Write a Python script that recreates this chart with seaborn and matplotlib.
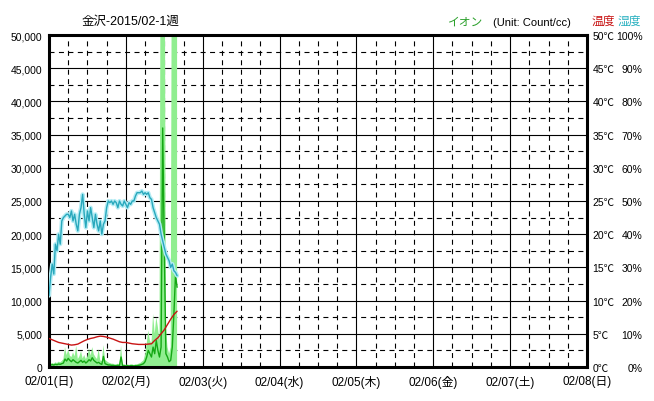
import numpy as np
import pandas as pd
import seaborn as sns
import matplotlib.pyplot as plt
from matplotlib.ticker import MultipleLocator

# time axis (hours since 02/01 00:00), half-hour samples
hours = np.arange(0, 40.5, 0.5)
temp_hours = np.arange(0, 41, 1)

# humidity (%)
humidity = [21.5, 27, 31, 28, 37, 35, 40, 37, 44, 45,
            45.5, 46, 46, 45, 47, 44, 46, 43, 41, 46,
            48, 52, 46, 42, 47, 44, 48, 45, 42, 46,
            43, 41, 44, 40, 43, 44, 48, 50, 49.5, 50,
            49, 50, 49.5, 48, 50, 49, 48.5, 50, 49, 48,
            49.5, 49, 50, 50, 51.5, 52.5, 52.5, 52.5, 53, 52,
            52.5, 52, 52.5, 51, 50.5, 48, 46.5, 45, 44, 43,
            40, 38, 36, 34, 33, 32, 30, 31, 29, 28.5, 27.5]

# temperature (C), hourly
temperature = [4.3, 4.1, 3.9, 3.7, 3.6, 3.5, 3.4, 3.3, 3.35, 3.45,
               3.7, 3.95, 4.15, 4.3, 4.4, 4.55, 4.65, 4.6, 4.5, 4.35,
               4.2, 4.0, 3.8, 3.7, 3.7, 3.6, 3.5, 3.45, 3.4, 3.4,
               3.4, 3.45, 3.5, 4.0, 4.4, 5.0, 5.6, 6.4, 7.2, 7.9, 8.4]

# ion count (count/cc): average and max
ion_avg = [400, 300, 350, 300, 400, 350, 450, 400, 500, 600,
           1200, 900, 1300, 1000, 800, 1100, 900, 700, 600, 800,
           1000, 700, 900, 600, 800, 1100, 900, 1400, 1000, 800,
           600, 700, 500, 400, 1600, 500, 400, 300, 300, 250,
           250, 200, 200, 250, 200, 1500, 150, 200, 150, 200,
           150, 200, 200, 150, 200, 200, 250, 300, 400, 500,
           800, 1500, 2500, 2000, 1500, 3000, 2000, 4000, 2500, 1500,
           3000, 36000, 18000, 2000, 1500, 800, 1000, 3000, 8000, 13800, 12000]
ion_max = [700, 500, 600, 500, 700, 600, 800, 700, 900, 1200,
           3000, 1800, 2600, 1700, 1500, 2200, 1600, 3200, 1200, 1600,
           2400, 1300, 1800, 1200, 1600, 2800, 1700, 3000, 1900, 1500,
           1200, 2700, 1000, 900, 3300, 1100, 900, 700, 600, 500,
           500, 400, 400, 500, 400, 3200, 400, 400, 300, 400,
           300, 400, 400, 300, 400, 400, 500, 600, 800, 1000,
           1800, 3500, 5500, 4000, 3500, 8000, 5000, 7500, 6000, 4000,
           90000, 90000, 90000, 6000, 3000, 2000, 3000, 90000, 90000, 90000, 90000]

day_labels = ["02/01(日)", "02/02(月)", "02/03(火)", "02/04(水)",
              "02/05(木)", "02/06(金)", "02/07(土)", "02/08(日)"]

sns.set_style("white")
plt.rcParams['font.family'] = ['Liberation Sans', 'Noto Sans CJK JP', 'DejaVu Sans']
plt.rcParams['font.size'] = 7.5
plt.rcParams['text.color'] = 'black'
plt.rcParams['xtick.color'] = 'black'
plt.rcParams['ytick.color'] = 'black'

fig = plt.figure(figsize=(6.54, 4.02), dpi=100)
ax = fig.add_axes([49 / 654, 34 / 402, 538 / 654, 332 / 402])
ax_h = ax.twinx()
ax_t = ax.twinx()

# ion: range fill + average line
ax.fill_between(hours, 0, ion_max, color='#90EE90', lw=0)
sns.lineplot(x=hours, y=ion_avg, ax=ax, color='#14A814', lw=1)

# grid
ax.set_xlim(0, 168)
ax.set_ylim(0, 50000)
ax.xaxis.set_minor_locator(MultipleLocator(6))
ax.yaxis.set_minor_locator(MultipleLocator(2500))
ax.grid(which='major', color='black', lw=0.8, ls='-')
ax.grid(which='minor', color='black', lw=0.8, ls=(0, (4.5, 4)))
ax.set_axisbelow(True)
ax.set_xticks(range(0, 169, 24))
ax.set_xticklabels(day_labels, fontsize=8.5)
ax.set_yticks(range(0, 50001, 5000))
ax.set_yticklabels([f"{v:,}" for v in range(0, 50001, 5000)])
ax.tick_params(which='both', length=0, colors='black')
ax.tick_params(axis='y', pad=5)
ax.tick_params(axis='x', pad=6)
for s in ax.spines.values():
    s.set_color('black')
    s.set_linewidth(2.2)

# humidity
sns.lineplot(x=hours, y=humidity, ax=ax_h, color='#B4ECF4', lw=3)
sns.lineplot(x=hours, y=humidity, ax=ax_h, color='#28A8BC', lw=1)
ax_h.set_ylim(0, 100)
ax_h.set_yticks(range(0, 101, 10))
ax_h.set_yticklabels([f"{v}%" for v in range(0, 101, 10)])
for lbl in ax_h.get_yticklabels():
    lbl.set_horizontalalignment('right')
ax_h.tick_params(length=0, pad=40, colors='black')

# temperature
sns.lineplot(x=temp_hours, y=temperature, ax=ax_t, color='#C81414', lw=1)
ax_t.set_ylim(0, 50)
ax_t.set_yticks(range(0, 51, 5))
ax_t.set_yticklabels([f"{v}℃" for v in range(0, 51, 5)])
ax_t.tick_params(length=0, pad=4, colors='black')

for a in (ax_h, ax_t):
    a.set_xlim(0, 168)
    a.set_ylabel('')
    for s in a.spines.values():
        s.set_visible(False)
    a.grid(False)

# header texts
fig.text(82 / 654, 1 - 22 / 402, "金沢-2015/02-1週", ha='left', va='center', fontsize=9)
fig.text(448 / 654, 1 - 23 / 402, "イオン", ha='left', va='center', color='#2CA02C', fontsize=8.5)
fig.text(493 / 654, 1 - 23 / 402, "(Unit: Count/cc)", ha='left', va='center', fontsize=8)
fig.text(592 / 654, 1 - 22 / 402, "温度", ha='left', va='center', color='#C81414', fontsize=8.5)
fig.text(618 / 654, 1 - 22 / 402, "湿度", ha='left', va='center', color='#28B0C0', fontsize=8.5)

fig.savefig('out.png', dpi=100)
